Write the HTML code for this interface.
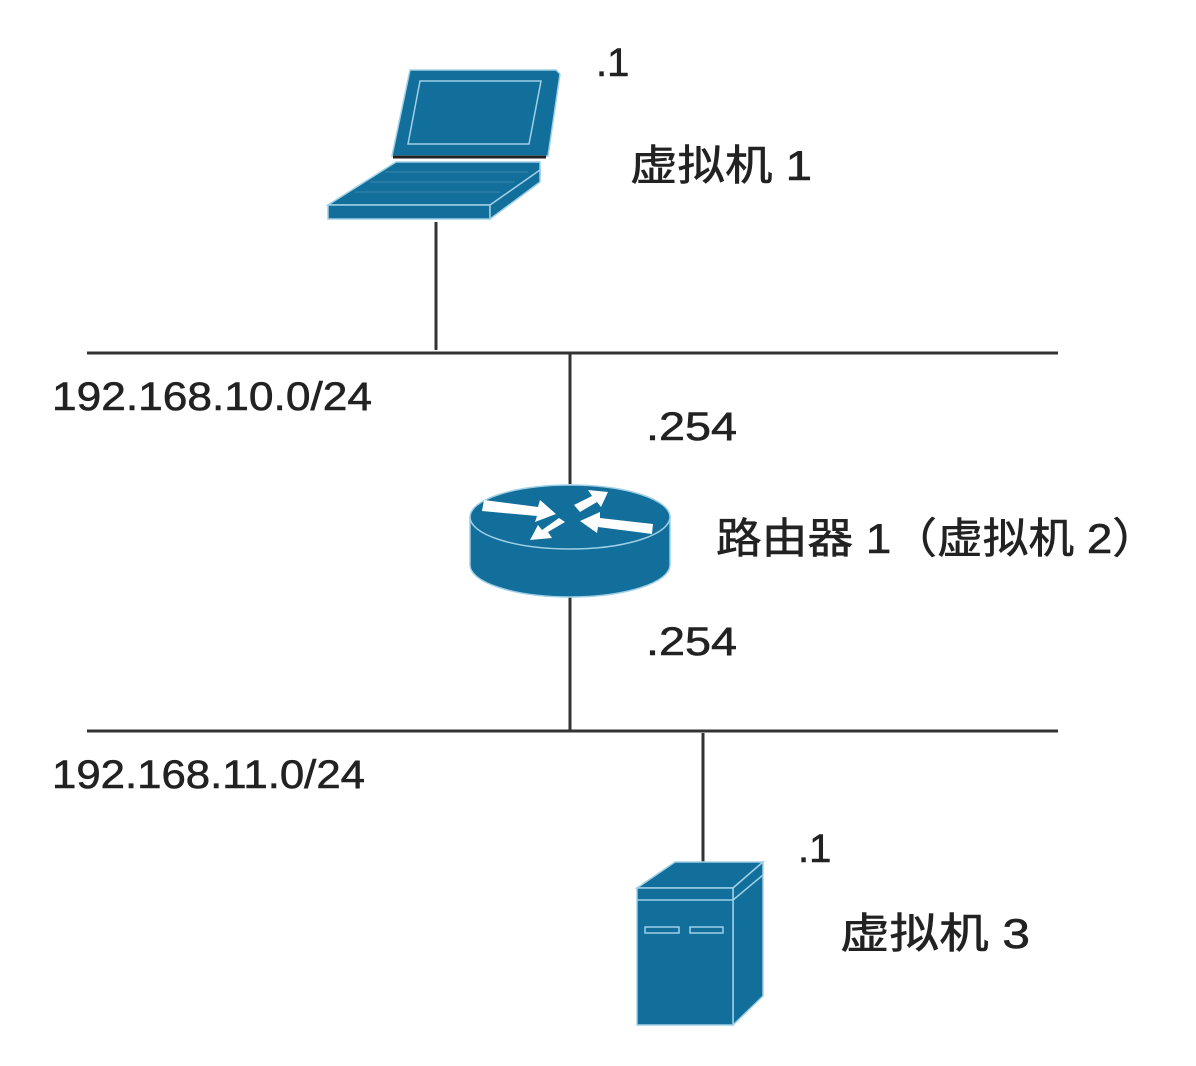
<!DOCTYPE html>
<html><head><meta charset="utf-8"><style>html,body{margin:0;padding:0;background:#fff}svg{display:block}</style></head>
<body>
<svg width="1196" height="1066" viewBox="0 0 1196 1066" xmlns="http://www.w3.org/2000/svg" font-family="Liberation Sans, Noto Sans CJK SC, sans-serif" fill="#222">
<g stroke="#333" stroke-width="3">
<line x1="87" y1="353" x2="1058" y2="353"/>
<line x1="87" y1="731" x2="1058" y2="731"/>
<line x1="436" y1="222" x2="436" y2="350"/>
<line x1="570" y1="353" x2="570" y2="484"/>
<line x1="570" y1="596" x2="570" y2="731"/>
<line x1="703" y1="733" x2="703" y2="864"/>
</g>
<!-- laptop -->
<g fill="#126e9a" stroke="#9fd0e6" stroke-width="1.5">
<polygon points="410,70 556,70 560,74 548,156 392,156"/>
<polygon points="420,81 541,81 529,144 408,144" fill="none"/>
<line x1="393" y1="157" x2="546" y2="157" stroke="#222" stroke-width="3"/>
<polygon points="396,162 540,162 540,175 532,180 490,205 328,205"/>
<polygon points="328,205 490,205 490,219 328,219"/>
<polygon points="490,205 540,170 540,182 490,219"/>
</g>
<g stroke="#4a94b8" stroke-width="1" opacity="0.7">
<line x1="385" y1="172" x2="528" y2="172"/><line x1="370" y1="182" x2="515" y2="182"/><line x1="355" y1="192" x2="500" y2="192"/>
</g>
<!-- router -->
<g fill="#126e9a" stroke="#9fd0e6" stroke-width="1.5">
<path d="M470,517 L470,565 A100,32 0 0 0 670,565 L670,517 Z"/>
<ellipse cx="570" cy="517" rx="100" ry="32"/>
</g>
<g fill="#fff">
<polygon points="484,500 538,507 540,500 556,514 535,522 537,516 482,511"/>
<polygon points="574,505 592,496 588,490 608,492 601,507 597,502 580,512"/>
<polygon points="652,534 598,527 597,533 580,521 600,512 600,518 653,524"/>
<polygon points="565,522 548,532 552,538 530,540 538,525 542,530 559,518"/>
</g>
<!-- server -->
<g fill="#126e9a" stroke="#9fd0e6" stroke-width="1.5">
<polygon points="637,888 675,862 763,862 733,888"/>
<polygon points="733,888 763,862 763,996 733,1025"/>
<rect x="637" y="888" width="96" height="137"/>
<line x1="637" y1="900" x2="733" y2="900"/>
<line x1="733" y1="900" x2="763" y2="875"/>
<rect x="645" y="927" width="34" height="6" fill="none"/>
<rect x="690" y="927" width="33" height="6" fill="none"/>
</g>
<!-- text -->
<g font-size="40" stroke="#222" stroke-width="0.6" lengthAdjust="spacingAndGlyphs">
<text x="596" y="76">.1</text>
<text x="630" y="180" font-size="42" textLength="182" lengthAdjust="spacingAndGlyphs">虚拟机 1</text>
<text x="52" y="410" textLength="320" lengthAdjust="spacingAndGlyphs">192.168.10.0/24</text>
<text x="646" y="440" textLength="91" lengthAdjust="spacingAndGlyphs">.254</text>
<text x="716" y="553" font-size="42" textLength="442" lengthAdjust="spacingAndGlyphs">路由器 1（虚拟机 2）</text>
<text x="646" y="655" textLength="91" lengthAdjust="spacingAndGlyphs">.254</text>
<text x="52" y="788" textLength="313" lengthAdjust="spacingAndGlyphs">192.168.11.0/24</text>
<text x="798" y="862">.1</text>
<text x="840" y="948" font-size="42" textLength="190" lengthAdjust="spacingAndGlyphs">虚拟机 3</text>
</g>
</svg>
</body></html>
